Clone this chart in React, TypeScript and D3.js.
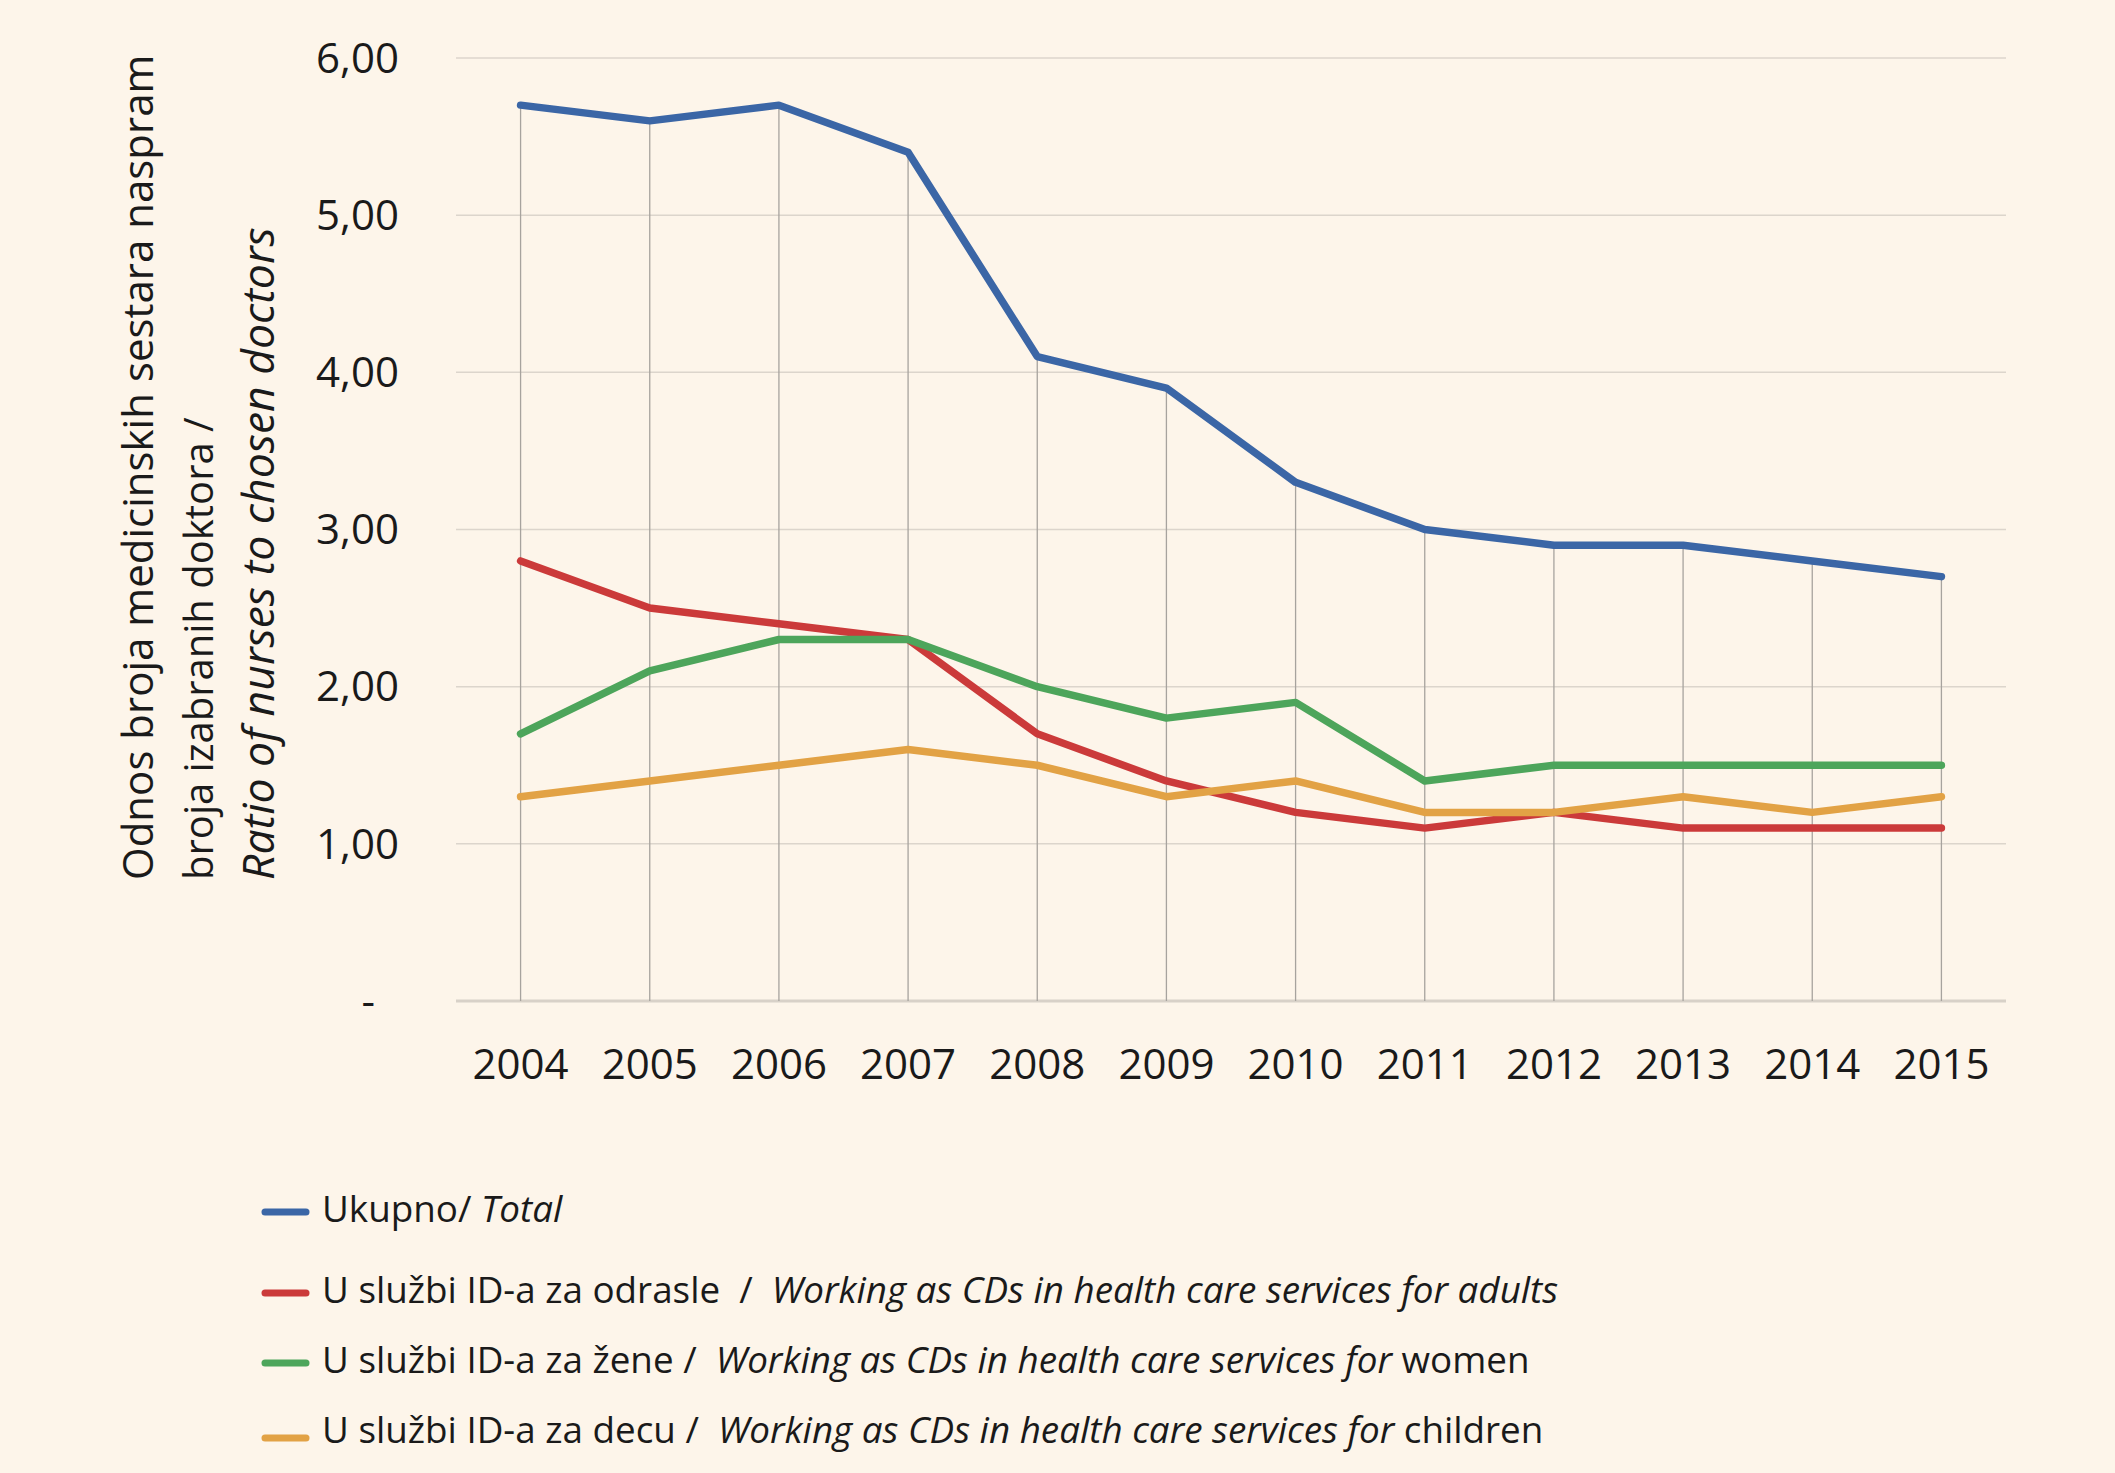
import * as d3 from "d3";
import React from "react";

const years = ["2004", "2005", "2006", "2007", "2008", "2009", "2010", "2011", "2012", "2013", "2014", "2015"];

const total = [5.7, 5.6, 5.7, 5.4, 4.1, 3.9, 3.3, 3.0, 2.9, 2.9, 2.8, 2.7];
const adults = [2.8, 2.5, 2.4, 2.3, 1.7, 1.4, 1.2, 1.1, 1.2, 1.1, 1.1, 1.1];
const women = [1.7, 2.1, 2.3, 2.3, 2.0, 1.8, 1.9, 1.4, 1.5, 1.5, 1.5, 1.5];
const children = [1.3, 1.4, 1.5, 1.6, 1.5, 1.3, 1.4, 1.2, 1.2, 1.3, 1.2, 1.3];

const yTicks = [0, 1, 2, 3, 4, 5, 6];

type Series = { key: string; values: number[]; color: string; local: string; en: string; enTail: string };

const series: Series[] = [
  { key: "total", values: total, color: "#3b66a6", local: "Ukupno/ ", en: "Total", enTail: "" },
  { key: "adults", values: adults, color: "#cb3a3a", local: "U službi ID-a za odrasle  /  ", en: "Working as CDs in health care services for adults", enTail: "" },
  { key: "women", values: women, color: "#4da55b", local: "U službi ID-a za žene /  ", en: "Working as CDs in health care services for", enTail: " women" },
  { key: "children", values: children, color: "#e2a245", local: "U službi ID-a za decu /  ", en: "Working as CDs in health care services for", enTail: " children" },
];

const W = 2115;
const H = 1473;
const FONT = "'Open Sans', sans-serif";

export default function App() {
  const margin = { left: 456, right: W - 2006, top: 58, bottom: H - 1001 };

  const x = d3.scaleBand<string>().domain(years).range([margin.left, W - margin.right]);
  const y = d3.scaleLinear().domain([0, 6]).range([H - margin.bottom, margin.top]);
  const cx = (yr: string) => (x(yr) ?? 0) + x.bandwidth() / 2;

  const line = d3
    .line<number>()
    .x((_, i) => cx(years[i]))
    .y(d => y(d));

  const fmt = (v: number) => (v === 0 ? "-" : d3.format(".2f")(v).replace(".", ","));

  // drop lines from the highest point of each year down to zero
  const tops = years.map((_, i) => d3.max(series, s => s.values[i]) ?? 0);

  const legendY = [1209, 1290, 1360, 1430];

  return (
    <svg
      width={W}
      height={H}
      style={{ position: "absolute", left: 0, top: 0, display: "block" }}
      fontFamily={FONT}
    >
      <rect width={W} height={H} fill="#fdf5ea" />

      {/* gridlines */}
      {yTicks.filter(t => t > 0).map(t => (
        <line key={t} x1={margin.left} x2={W - margin.right} y1={y(t)} y2={y(t)} stroke="#dcd5cc" strokeWidth={1.5} />
      ))}
      <line x1={margin.left} x2={W - margin.right} y1={y(0)} y2={y(0)} stroke="#d8d1c8" strokeWidth={3} />

      {/* drop lines */}
      {years.map((yr, i) => (
        <line key={yr} x1={cx(yr)} x2={cx(yr)} y1={y(tops[i])} y2={y(0)} stroke="#a7a39e" strokeWidth={1.3} />
      ))}

      {/* y tick labels */}
      {yTicks.map(t => (
        <text
          key={t}
          x={t === 0 ? 375 : 399}
          y={y(t)}
          dy="0.35em"
          textAnchor="end"
          fontSize={42}
          fill="#1a1a1a"
        >
          {fmt(t)}
        </text>
      ))}

      {/* x tick labels */}
      {years.map(yr => (
        <text key={yr} x={cx(yr)} y={1079} textAnchor="middle" fontSize={42} fill="#1a1a1a">
          {yr}
        </text>
      ))}

      {/* series */}
      {series.map(s => (
        <path
          key={s.key}
          d={line(s.values) ?? ""}
          fill="none"
          stroke={s.color}
          strokeWidth={7.5}
          strokeLinejoin="round"
          strokeLinecap="round"
        />
      ))}

      {/* y axis title */}
      <g fill="#1a1a1a">
        <text transform="translate(153,880) rotate(-90)" fontSize={42}>Odnos broja medicinskih sestara naspram</text>
        <text transform="translate(213,880) rotate(-90)" fontSize={40}>broja izabranih doktora /</text>
        <text transform="translate(274,880) rotate(-90)" fontSize={44.5} fontStyle="italic">Ratio of nurses to chosen doctors</text>
      </g>

      {/* legend */}
      {series.map((s, i) => (
        <g key={s.key}>
          <line
            x1={265}
            x2={306}
            y1={legendY[i] + (i === 3 ? 8 : 3)}
            y2={legendY[i] + (i === 3 ? 8 : 3)}
            stroke={s.color}
            strokeWidth={7}
            strokeLinecap="round"
          />
          <text x={322} y={legendY[i]} dy="0.35em" fontSize={36.8} fill="#1a1a1a" style={{ whiteSpace: "pre" }}>
            <tspan>{s.local}</tspan>
            <tspan fontStyle="italic">{s.en}</tspan>
            {s.enTail && <tspan>{s.enTail}</tspan>}
          </text>
        </g>
      ))}
    </svg>
  );
}
